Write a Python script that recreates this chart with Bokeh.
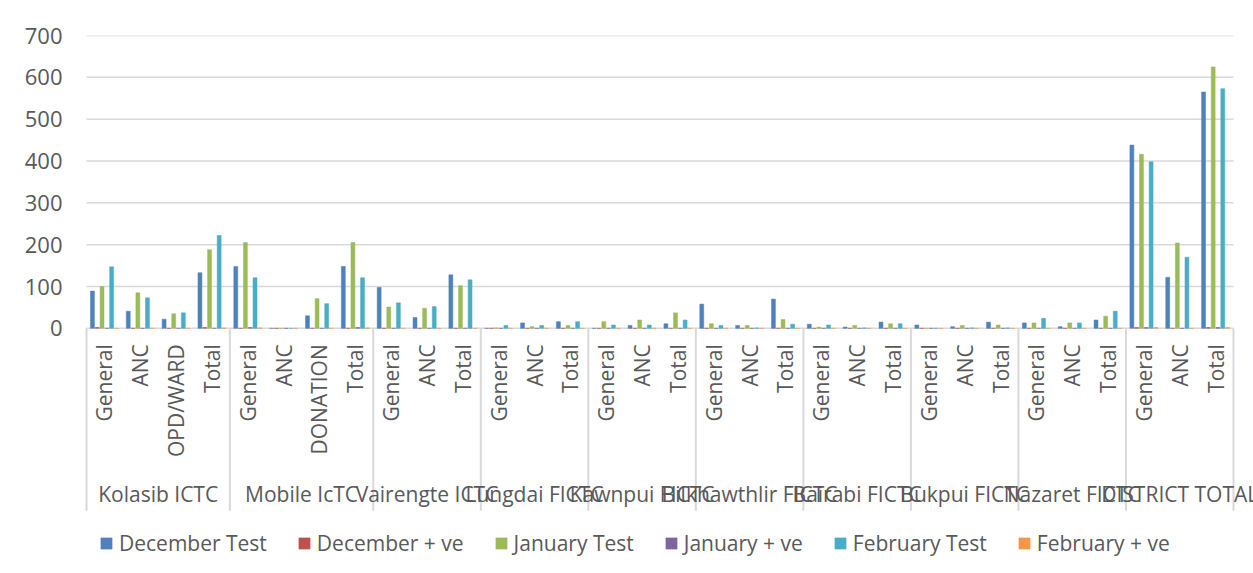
import math
from bokeh.plotting import figure
from bokeh.models import ColumnDataSource, FactorRange, FixedTicker, Legend, Range1d
from bokeh.transform import dodge
from bokeh.core.properties import value
from bokeh.embed import file_html
from bokeh.resources import INLINE

# ---- data ----
groups = ["Kolasib ICTC", "Mobile IcTC", "Vairengte ICTC", "Lungdai FICTC", "Kawnpui FICTC",
          "Bilkhawthlir FICTC", "Bairabi FICTC", "Bukpui FICTC", "Nazaret FICTC", "DISTRICT TOTAL"]
subcats = [
    ["General", "ANC", "OPD/WARD", "Total"],
    ["General", "ANC", "DONATION", "Total"],
    ["General", "ANC", "Total"],
    ["General", "ANC", "Total"],
    ["General", "ANC", "Total"],
    ["General", "ANC", "Total"],
    ["General", "ANC", "Total"],
    ["General", "ANC", "Total"],
    ["General", "ANC", "Total"],
    ["General", "ANC", "Total"],
]
december_test = [89, 41, 22, 133, 148, 0, 30, 148, 98, 26, 128, 0, 13, 16, 0, 7, 11,
                 58, 7, 70, 10, 3, 15, 8, 4, 15, 13, 4, 20, 438, 122, 565]
december_pos = [2, 0, 0, 2, 0, 0, 0, 0, 0, 0, 0, 0, 0, 0, 0, 0, 0,
                0, 0, 0, 0, 0, 0, 0, 0, 0, 0, 0, 0, 2, 0, 2]
january_test = [100, 85, 35, 188, 205, 0, 71, 205, 51, 48, 102, 1, 4, 7, 16, 20, 37,
                11, 7, 21, 3, 7, 11, 0, 7, 8, 13, 13, 29, 416, 204, 625]
january_pos = [0, 0, 0, 0, 2, 0, 0, 2, 0, 0, 0, 0, 0, 0, 0, 0, 0,
               0, 0, 0, 0, 0, 0, 0, 0, 0, 0, 0, 0, 2, 0, 2]
february_test = [147, 73, 37, 222, 121, 0, 59, 121, 61, 52, 116, 7, 7, 16, 8, 8, 20,
                 7, 1, 10, 8, 1, 11, 0, 1, 1, 24, 13, 41, 398, 170, 573]
february_pos = [0, 0, 0, 1, 1, 0, 0, 1, 0, 0, 0, 0, 0, 0, 0, 0, 0,
                0, 0, 0, 0, 0, 0, 0, 0, 0, 0, 0, 0, 2, 0, 2]
y_ticks = [0, 100, 200, 300, 400, 500, 600, 700]

series_labels = ["December Test", "December + ve", "January Test", "January + ve",
                 "February Test", "February + ve"]
series_keys = ["dec", "decp", "jan", "janp", "feb", "febp"]
colors = ["#4F81BD", "#C0504D", "#9BBB59", "#8064A2", "#4BACC6", "#F79646"]

factors = [(g, s) for g, subs in zip(groups, subcats) for s in subs]
source = ColumnDataSource(dict(x=factors, dec=december_test, decp=december_pos,
                               jan=january_test, janp=january_pos,
                               feb=february_test, febp=february_pos))

FONT = "Open Sans"
GRAY = "#595959"
SEP = "#d9d9d9"

# the category axis is drawn inside the plot frame, below the zero line
p = figure(x_range=FactorRange(*factors, factor_padding=0, group_padding=0,
                               range_padding=0.558, range_padding_units="absolute"),
           y_range=Range1d(-586, 700), width=1253, height=573, x_axis_location=None,
           min_border_left=66, min_border_right=0, min_border_top=35, min_border_bottom=0,
           output_backend="svg", toolbar_location=None)

p.outline_line_color = None
p.xgrid.grid_line_color = None
p.ygrid.grid_line_color = None

# horizontal gridlines (0 line doubles as the category axis line)
grid_src = ColumnDataSource(dict(x0=[factors[0]] * len(y_ticks),
                                 x1=[factors[-1]] * len(y_ticks), y=y_ticks))
p.segment(x0=dodge("x0", -0.5, range=p.x_range), x1=dodge("x1", 0.5, range=p.x_range),
          y0="y", y1="y", source=grid_src, line_color=SEP, line_width=1.5)

items = []
for i, (k, lab, c) in enumerate(zip(series_keys, series_labels, colors)):
    r = p.vbar(x=dodge("x", (i - 2.5) * 0.134, range=p.x_range), top=k, width=0.11,
               source=source, fill_color=c, line_color=c, line_width=0.5)
    items.append((lab, [r]))

ya = p.yaxis[0]
ya.ticker = FixedTicker(ticks=y_ticks)
ya.axis_line_color = None
ya.major_tick_line_color = None
ya.minor_tick_line_color = None
ya.major_tick_out = 0
ya.major_label_standoff = 4
ya.major_label_text_font = FONT
ya.major_label_text_font_size = "22px"
ya.major_label_text_color = GRAY

# group separators
first_of_group = [(g, subs[0]) for g, subs in zip(groups, subcats)]
sep_src = ColumnDataSource(dict(x=first_of_group))
p.segment(x0=dodge("x", -0.5, range=p.x_range), x1=dodge("x", -0.5, range=p.x_range),
          y0=0, y1=-436, source=sep_src, line_color=SEP, line_width=2)
end_src = ColumnDataSource(dict(x=[factors[-1]]))
p.segment(x0=dodge("x", 0.5, range=p.x_range), x1=dodge("x", 0.5, range=p.x_range),
          y0=0, y1=-436, source=end_src, line_color=SEP, line_width=2)

# subcategory labels (vertical, reading bottom to top)
sub_src = ColumnDataSource(dict(x=factors, t=[s for subs in subcats for s in subs]))
p.text(x="x", y=-38, text="t", source=sub_src, angle=math.pi / 2,
       text_align="right", text_baseline="middle", text_font=value(FONT),
       text_font_size=value("21px"), text_color=GRAY)

# group labels
grp_src = ColumnDataSource(dict(x=groups, t=groups))
p.text(x="x", y=-395, text="t", source=grp_src, text_align="center",
       text_baseline="middle", text_font=value(FONT), text_font_size=value("21px"),
       text_color=GRAY)

legend = Legend(items=items, orientation="horizontal", location=(33, 16),
                label_text_font=FONT, label_text_font_size="21px", label_text_color=GRAY,
                glyph_width=14, glyph_height=14, label_standoff=6, spacing=30,
                border_line_color=None, background_fill_alpha=0, padding=0, margin=0)
p.add_layout(legend)

open("out.html", "w").write(file_html(p, INLINE))
